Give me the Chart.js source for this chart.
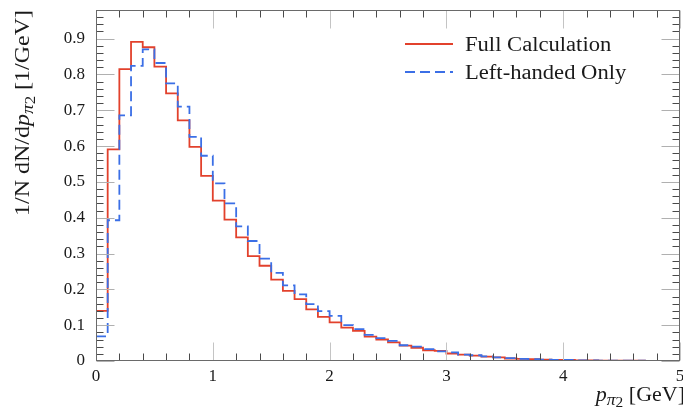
<!DOCTYPE html>
<html>
<head>
<meta charset="utf-8">
<title>p_pi2 distribution</title>
<script src="https://cdn.jsdelivr.net/npm/chart.js@4.4.0/dist/chart.umd.min.js"></script>
<style>
  html, body { margin: 0; padding: 0; background: #fff; }
  #wrap { width: 683px; height: 416px; }
</style>
</head>
<body>
<div id="wrap"><canvas id="myChart" width="683" height="416"></canvas></div>
<script>
// histogram, bins of 0.1 GeV from 0 to 5 GeV
const binWidth = 0.1
const fullCalc = [
  0.140, 0.591, 0.815, 0.891, 0.876, 0.822, 0.747, 0.672, 0.598, 0.517,
  0.448, 0.395, 0.345, 0.293, 0.266, 0.227, 0.196, 0.173, 0.144, 0.123,
  0.108, 0.093, 0.084, 0.068, 0.060, 0.052, 0.043, 0.037, 0.030, 0.028,
  0.021, 0.018, 0.015, 0.012, 0.010, 0.007, 0.006, 0.005, 0.004, 0.003,
  0.003, 0.002, 0.002, 0.001, 0.001, 0.001, 0.001, 0.0005, 0.0005, 0.0005
]
const leftOnly = [
  0.069, 0.393, 0.686, 0.824, 0.870, 0.832, 0.775, 0.710, 0.626, 0.573,
  0.496, 0.440, 0.376, 0.335, 0.286, 0.246, 0.211, 0.186, 0.159, 0.139,
  0.126, 0.100, 0.089, 0.073, 0.064, 0.056, 0.044, 0.040, 0.033, 0.027,
  0.024, 0.018, 0.016, 0.013, 0.010, 0.008, 0.006, 0.005, 0.004, 0.003,
  0.003, 0.002, 0.002, 0.001, 0.001, 0.001, 0.001, 0.0005, 0.0005, 0.0005
]
const seriesNames = ['Full Calculation', 'Left-handed Only']
const xTicks = [0, 1, 2, 3, 4, 5]
const yTicks = [0, 0.1, 0.2, 0.3, 0.4, 0.5, 0.6, 0.7, 0.8, 0.9]

const serif = '"Liberation Serif", "DejaVu Serif", serif'
const red = '#e2412c'
const blue = '#3b6fe6'

// bin values -> step points (left edge of each bin + closing edge)
function toSteps (vals) {
  let pts = vals.map((v, i) => ({ x: i * binWidth, y: v }))
  pts.push({ x: vals.length * binWidth, y: vals[vals.length - 1] })
  return pts
}

// draw a row of text pieces (for sub/italic), optionally stretched horizontally
function drawRuns (ctx, runs, x, y, sx, alignRight) {
  let w = 0
  for (const r of runs) {
    ctx.font = r.font
    r.w = ctx.measureText(r.text).width
    w += r.w
  }
  ctx.save()
  ctx.translate(alignRight ? x - w * sx : x, y)
  ctx.scale(sx, 1)
  ctx.textBaseline = 'alphabetic'
  ctx.textAlign = 'left'
  let cx = 0
  for (const r of runs) {
    ctx.font = r.font
    ctx.fillText(r.text, cx, r.dy || 0)
    cx += r.w
  }
  ctx.restore()
}

// frame with inward ticks on all four sides, like the original
const framePlugin = {
  id: 'frame',
  afterDatasetsDraw (chart) {
    const { ctx, chartArea: a, scales: { x, y } } = chart
    ctx.save()
    ctx.lineWidth = 1
    const px = v => Math.round(x.getPixelForValue(v)) + 0.5
    const py = v => Math.round(y.getPixelForValue(v)) + 0.5
    const L = Math.round(a.left) + 0.5, R = Math.round(a.right) - 0.5
    const T = Math.round(a.top) + 0.5, B = Math.round(a.bottom) - 0.5

    // x minor ticks every 0.2, major at integers
    for (let i = 0; i <= 25; i++) {
      const v = i * 0.2
      const major = i % 5 == 0
      const len = major ? 18 : 7
      ctx.strokeStyle = major ? '#c4c4c4' : '#4a4a4a'
      const xx = px(v)
      ctx.beginPath()
      ctx.moveTo(xx, B); ctx.lineTo(xx, B - len)
      ctx.moveTo(xx, T); ctx.lineTo(xx, T + len)
      ctx.stroke()
    }
    // y minor ticks every 0.02, major every 0.1
    for (let i = 0; i <= 48; i++) {
      const v = i * 0.02
      const major = i % 5 == 0
      const len = major ? 18 : 7
      ctx.strokeStyle = major ? '#b0b0b0' : '#4a4a4a'
      const yy = py(v)
      ctx.beginPath()
      ctx.moveTo(L, yy); ctx.lineTo(L + len, yy)
      ctx.moveTo(R, yy); ctx.lineTo(R - len, yy)
      ctx.stroke()
    }
    ctx.strokeStyle = '#6a6a6a'
    ctx.strokeRect(L, T, R - L, B - T)

    // legend
    const ds = chart.data.datasets
    const rows = [ds.find(d => d.label == seriesNames[0]), ds.find(d => d.label == seriesNames[1])]
    rows.forEach((d, i) => {
      const ly = 44 + i * 28
      ctx.strokeStyle = d.borderColor
      ctx.lineWidth = d.borderWidth
      ctx.setLineDash(d.borderDash || [])
      ctx.beginPath()
      ctx.moveTo(405, ly); ctx.lineTo(453, ly)
      ctx.stroke()
      ctx.setLineDash([])
      ctx.fillStyle = '#1a1a1a'
      drawRuns(ctx, [{ text: d.label, font: '20px ' + serif }], 465, ly + 7, 1.13, false)
    })

    // axis titles
    ctx.fillStyle = '#1a1a1a'
    drawRuns(ctx, [
      { text: 'p', font: 'italic 20px ' + serif },
      { text: 'π', font: 'italic 16px ' + serif, dy: 4 },
      { text: '2', font: '14px ' + serif, dy: 6 },
      { text: ' [GeV]', font: '20px ' + serif }
    ], 685, 401, 1.1, true)

    ctx.save()
    ctx.translate(29, 10)
    ctx.rotate(-Math.PI / 2)
    drawRuns(ctx, [
      { text: '1/N dN/d', font: '20px ' + serif },
      { text: 'p', font: 'italic 20px ' + serif },
      { text: 'π', font: 'italic 16px ' + serif, dy: 4 },
      { text: '2', font: '14px ' + serif, dy: 6 },
      { text: ' [1/GeV]', font: '20px ' + serif }
    ], 0, 0, 1.2, true)
    ctx.restore()

    ctx.restore()
  }
}

var ctx = document.getElementById('myChart').getContext('2d')
var chart = new Chart(ctx, {
  type: 'line',
  data: {
    datasets: [{
      label: seriesNames[0],
      data: toSteps(fullCalc),
      borderColor: red,
      borderWidth: 1.8,
      stepped: true,
      pointRadius: 0,
      fill: false,
      order: 2
    }, {
      label: seriesNames[1],
      data: toSteps(leftOnly),
      borderColor: blue,
      borderWidth: 1.8,
      borderDash: [10, 5],
      stepped: true,
      pointRadius: 0,
      fill: false,
      order: 1
    }]
  },
  options: {
    responsive: false,
    animation: false,
    events: [],
    layout: { padding: { top: 10, right: 3, left: 0, bottom: 0 } },
    plugins: {
      legend: { display: false },
      tooltip: { enabled: false }
    },
    scales: {
      x: {
        type: 'linear',
        min: 0,
        max: 5,
        grid: { display: false, drawTicks: false },
        border: { display: false },
        afterBuildTicks: s => { s.ticks = xTicks.map(v => ({ value: v })) },
        afterFit: s => { s.height = 55; s.paddingLeft = 0; s.paddingRight = 0 },
        ticks: {
          padding: 5,
          maxRotation: 0,
          color: '#1a1a1a',
          font: { family: serif, size: 17 },
          callback: v => String(v)
        }
      },
      y: {
        type: 'linear',
        min: 0,
        max: 0.98,
        grid: { display: false, drawTicks: false },
        border: { display: false },
        afterBuildTicks: s => { s.ticks = yTicks.map(v => ({ value: v })) },
        afterFit: s => { s.width = 96; s.paddingTop = 0; s.paddingBottom = 0 },
        ticks: {
          padding: 11,
          color: '#1a1a1a',
          font: { family: serif, size: 17 },
          callback: v => v == 0 ? '0' : v.toFixed(1)
        }
      }
    }
  },
  plugins: [framePlugin]
})
</script>
</body>
</html>
